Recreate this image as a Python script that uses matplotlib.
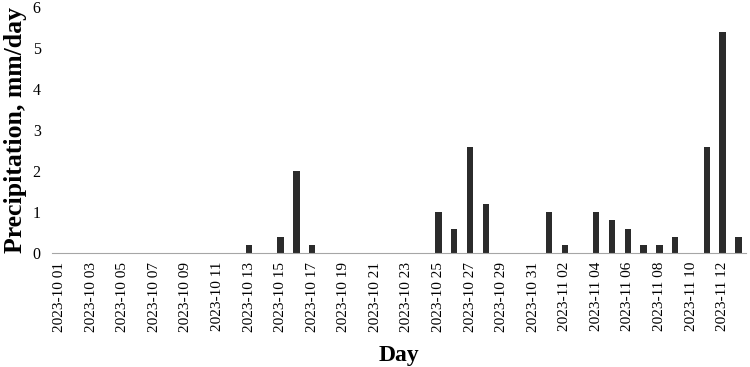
import numpy as np
import pandas as pd
import matplotlib
matplotlib.use("Agg")
import matplotlib.pyplot as plt

plt.rcParams["font.family"] = ["Liberation Serif", "DejaVu Serif"]

# --- data ---
days = pd.date_range("2023-10-01", "2023-11-13", freq="D")
rain_days = ["2023-10-13", "2023-10-15", "2023-10-16", "2023-10-17",
             "2023-10-25", "2023-10-26", "2023-10-27", "2023-10-28",
             "2023-11-01", "2023-11-02", "2023-11-04", "2023-11-05",
             "2023-11-06", "2023-11-07", "2023-11-08", "2023-11-09",
             "2023-11-11", "2023-11-12", "2023-11-13"]
rain_mm = [0.2, 0.4, 2.0, 0.2,
           1.0, 0.6, 2.6, 1.2,
           1.0, 0.2, 1.0, 0.8,
           0.6, 0.2, 0.2, 0.4,
           2.6, 5.4, 0.4]

precip = pd.Series(0.0, index=days)
precip[pd.to_datetime(rain_days)] = rain_mm
labels = [d.strftime("%Y-%m %d") for d in days]

fig = plt.figure(figsize=(7.5, 3.67), dpi=100)
ax = fig.add_axes([0.069, 0.31, 0.926, 0.67])

x = np.arange(len(days))
ax.bar(x, precip.values, width=0.4, color="#2b2b2b")

ax.set_xlim(-0.5, len(days) - 0.5)
ax.set_ylim(0, 6)
ax.set_yticks(range(0, 7))
ax.set_xticks(x[::2])
ax.set_xticklabels(labels[::2], rotation=90, fontsize=11)
ax.tick_params(axis="y", labelsize=11.5, length=0, pad=8)
ax.tick_params(axis="x", length=0, pad=6)

for s in ["top", "right", "left"]:
    ax.spines[s].set_visible(False)
ax.spines["bottom"].set_color("#a6a6a6")

ax.set_ylabel("Precipitation, mm/day", fontsize=18.5, fontweight="bold", labelpad=4)
ax.set_xlabel("Day", fontsize=17, fontweight="bold", labelpad=10)

fig.savefig("out.png", dpi=100)
